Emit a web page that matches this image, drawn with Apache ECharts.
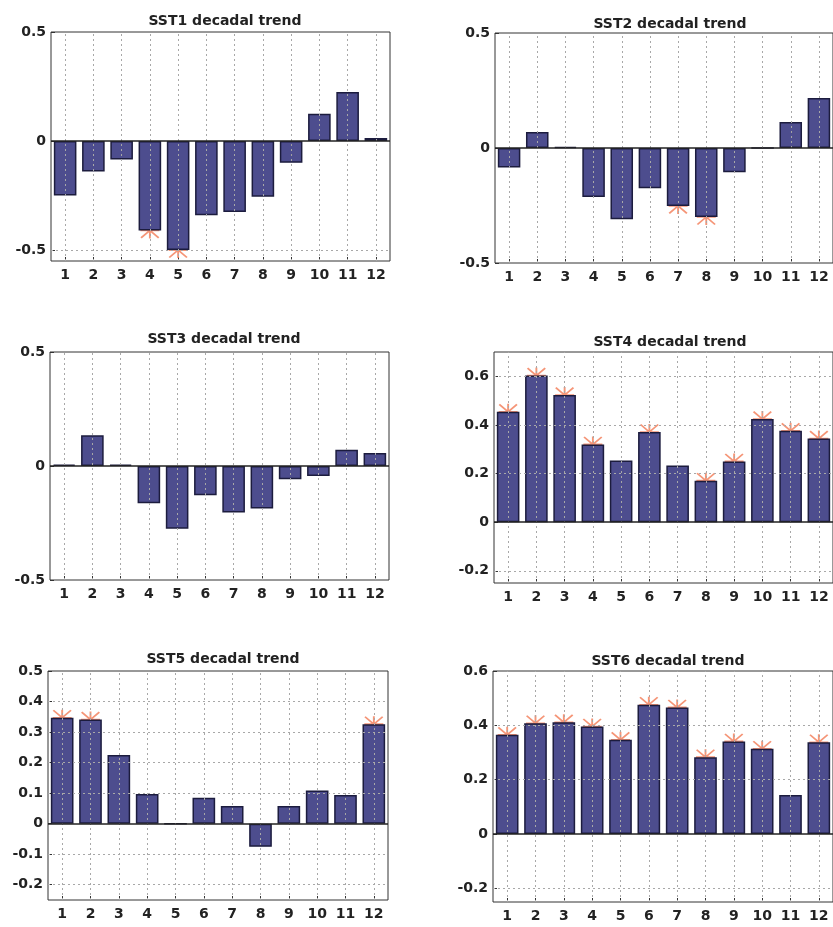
<!DOCTYPE html>
<html>
<head>
<meta charset="utf-8">
<title>SST decadal trend</title>
<script src="https://cdn.jsdelivr.net/npm/echarts@6/dist/echarts.min.js"></script>
<style>
  html, body { margin: 0; padding: 0; background: #fff; }
  #main { width: 833px; height: 927px; }
</style>
</head>
<body>
<div id="main"></div>
<script>
// months on the x axis
const months = ['1', '2', '3', '4', '5', '6', '7', '8', '9', '10', '11', '12'];

// decadal trend of each SST index
const sst1 = [-0.25, -0.14, -0.085, -0.41, -0.50, -0.34, -0.325, -0.255, -0.10, 0.125, 0.225, 0.014];
const sst2 = [-0.085, 0.07, 0.005, -0.213, -0.31, -0.175, -0.252, -0.30, -0.105, 0, 0.113, 0.217];
const sst3 = [0.006, 0.135, 0.006, -0.163, -0.275, -0.128, -0.204, -0.186, -0.058, -0.044, 0.071, 0.057];
const sst4 = [0.454, 0.603, 0.523, 0.32, 0.254, 0.371, 0.233, 0.171, 0.25, 0.424, 0.376, 0.344];
const sst5 = [0.347, 0.341, 0.225, 0.097, 0, 0.085, 0.058, -0.076, 0.058, 0.109, 0.094, 0.326];
const sst6 = [0.365, 0.408, 0.411, 0.396, 0.347, 0.476, 0.466, 0.283, 0.341, 0.314, 0.144, 0.338];

// significant months (marked with an asterisk)
const sig1 = [0, 0, 0, 1, 1, 0, 0, 0, 0, 0, 0, 0];
const sig2 = [0, 0, 0, 0, 0, 0, 1, 1, 0, 0, 0, 0];
const sig3 = [0, 0, 0, 0, 0, 0, 0, 0, 0, 0, 0, 0];
const sig4 = [1, 1, 1, 1, 0, 1, 0, 1, 1, 1, 1, 1];
const sig5 = [1, 1, 0, 0, 0, 0, 0, 0, 0, 0, 0, 1];
const sig6 = [1, 1, 1, 1, 1, 1, 1, 1, 1, 1, 0, 1];

// y tick labels and axis limits
const ticks1 = [-0.5, 0, 0.5];
const ticks2 = [-0.5, 0, 0.5];
const ticks3 = [-0.5, 0, 0.5];
const ticks4 = [-0.2, 0, 0.2, 0.4, 0.6];
const ticks5 = [-0.2, -0.1, 0, 0.1, 0.2, 0.3, 0.4, 0.5];
const ticks6 = [-0.2, 0, 0.2, 0.4, 0.6];
const range1 = [-0.55, 0.5];
const range2 = [-0.5, 0.5];
const range3 = [-0.5, 0.5];
const range4 = [-0.25, 0.7];
const range5 = [-0.25, 0.5];
const range6 = [-0.25, 0.6];

const titles = ['SST1 decadal trend', 'SST2 decadal trend', 'SST3 decadal trend',
  'SST4 decadal trend', 'SST5 decadal trend', 'SST6 decadal trend'];

const panels = [
  {vals: sst1, sig: sig1, ticks: ticks1, range: range1, grid: {left: 51, top: 32, width: 339, height: 229}, tx: 220, ty: 9},
  {vals: sst2, sig: sig2, ticks: ticks2, range: range2, grid: {left: 495, top: 33, width: 340, height: 230}, tx: 665, ty: 12},
  {vals: sst3, sig: sig3, ticks: ticks3, range: range3, grid: {left: 50, top: 352, width: 339, height: 228}, tx: 219, ty: 327},
  {vals: sst4, sig: sig4, ticks: ticks4, range: range4, grid: {left: 494, top: 352, width: 341, height: 231}, tx: 665, ty: 330},
  {vals: sst5, sig: sig5, ticks: ticks5, range: range5, grid: {left: 48, top: 671, width: 340, height: 229}, tx: 218, ty: 647},
  {vals: sst6, sig: sig6, ticks: ticks6, range: range6, grid: {left: 493, top: 671, width: 342, height: 231}, tx: 663, ty: 649}
];

const FONT = 'DejaVu Sans';
const BAR = '#4d4d8e';
const BAR_EDGE = '#1c1c3e';
const STAR = '#f27a55';

// asterisk marker built from four thin bars
const starPath = 'path://M0,9 L20,9 L20,11 L0,11 Z M9,0 L11,0 L11,20 L9,20 Z ' +
  'M0,1.4 L1.4,0 L20,18.6 L18.6,20 Z M18.6,0 L20,1.4 L1.4,20 L0,18.6 Z';

const fmt = (v) => String(+(+v).toFixed(2));

const grids = [], xAxes = [], yAxes = [], series = [], title = [];

panels.forEach((p, i) => {
  grids.push(Object.assign({
    show: true,
    borderColor: '#333',
    borderWidth: 1,
    backgroundColor: '#fff',
    containLabel: false
  }, p.grid));

  title.push({
    text: titles[i],
    left: p.tx,
    top: p.ty,
    textAlign: 'center',
    textStyle: {fontFamily: FONT, fontWeight: 'bold', fontSize: 14, color: '#222'}
  });

  xAxes.push({
    type: 'category',
    gridIndex: i,
    data: months,
    axisLine: {show: false, onZero: false},
    axisTick: {show: true, alignWithLabel: true, inside: true, length: 4, lineStyle: {color: '#333'}},
    axisLabel: {fontFamily: FONT, fontWeight: 'bold', fontSize: 14, color: '#222', margin: 7, interval: 0},
    splitLine: {show: false}
  });

  yAxes.push({
    type: 'value',
    gridIndex: i,
    min: p.range[0],
    max: p.range[1],
    axisLine: {show: false},
    axisTick: {show: true, inside: true, length: 4, customValues: p.ticks, lineStyle: {color: '#333'}},
    axisLabel: {
      fontFamily: FONT, fontWeight: 'bold', fontSize: 14, color: '#222', margin: 5,
      customValues: p.ticks, formatter: fmt
    },
    splitLine: {show: false}
  });

  const gridLines = p.ticks
    .filter(t => t > p.range[0] && t < p.range[1] && t !== 0)
    .map(t => ({yAxis: t}))
    .concat(months.map(m => ({xAxis: m})));

  // dotted grid behind everything
  series.push({
    type: 'line',
    xAxisIndex: i,
    yAxisIndex: i,
    data: months.map(() => '-'),
    showSymbol: false,
    silent: true,
    z: 1,
    lineStyle: {opacity: 0},
    markLine: {
      silent: true,
      symbol: 'none',
      label: {show: false},
      lineStyle: {type: [2, 3], color: '#a8a8a8', width: 1},
      data: gridLines
    }
  });

  // significance asterisks
  series.push({
    type: 'scatter',
    xAxisIndex: i,
    yAxisIndex: i,
    z: 2,
    symbol: starPath,
    symbolSize: [19, 16],
    itemStyle: {color: STAR},
    data: p.vals.map((v, j) => p.sig[j] ? v : '-')
  });

  series.push({
    type: 'bar',
    xAxisIndex: i,
    yAxisIndex: i,
    z: 3,
    barWidth: '80%',
    itemStyle: {color: BAR, borderColor: BAR_EDGE, borderWidth: 1.5},
    data: p.vals
  });

  // baseline at zero
  series.push({
    type: 'line',
    xAxisIndex: i,
    yAxisIndex: i,
    data: months.map(() => '-'),
    showSymbol: false,
    silent: true,
    z: 5,
    lineStyle: {opacity: 0},
    markLine: {
      silent: true,
      symbol: 'none',
      label: {show: false},
      lineStyle: {type: 'solid', color: '#222', width: 1.5},
      data: [{yAxis: 0}]
    }
  });
});

const chart = echarts.init(document.getElementById('main'));
chart.setOption({
  animation: false,
  backgroundColor: '#fff',
  title: title,
  grid: grids,
  xAxis: xAxes,
  yAxis: yAxes,
  series: series
});
</script>
</body>
</html>
